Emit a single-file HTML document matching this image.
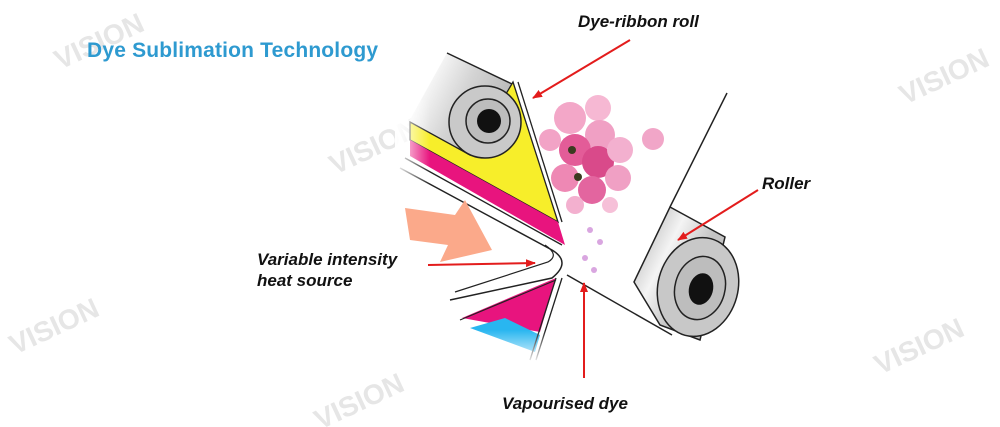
<!DOCTYPE html>
<html><head><meta charset="utf-8"><style>
html,body{margin:0;padding:0;background:#fff;width:1000px;height:427px;overflow:hidden}
</style></head><body>
<svg width="1000" height="427" viewBox="0 0 1000 427" xmlns="http://www.w3.org/2000/svg" font-family="Liberation Sans, sans-serif">
<defs>
<linearGradient id="cyl" gradientUnits="userSpaceOnUse" x1="420" y1="80" x2="500" y2="120">
<stop offset="0" stop-color="#fff"/><stop offset="0.5" stop-color="#d4d4d4"/><stop offset="1" stop-color="#b8b8b8"/></linearGradient>
<linearGradient id="cyl2" gradientUnits="userSpaceOnUse" x1="640" y1="230" x2="700" y2="260">
<stop offset="0" stop-color="#bdbdbd"/><stop offset="0.5" stop-color="#f4f4f4"/><stop offset="1" stop-color="#c4c4c4"/></linearGradient>
<linearGradient id="fadeL" x1="0" y1="0" x2="1" y2="0"><stop offset="0" stop-color="#fff" stop-opacity="1"/><stop offset="1" stop-color="#fff" stop-opacity="0"/></linearGradient>
<linearGradient id="fadeB" x1="0" y1="0" x2="0" y2="1"><stop offset="0" stop-color="#fff" stop-opacity="0"/><stop offset="1" stop-color="#fff" stop-opacity="1"/></linearGradient>
<marker id="ah" markerWidth="10" markerHeight="8" refX="9" refY="4" orient="auto" markerUnits="userSpaceOnUse"><path d="M0,0 L10,4 L0,8 Z" fill="#e31c1c"/></marker>
</defs>
<!-- watermarks -->
<g fill="#e6e6e6" font-weight="bold" font-size="28">
<text transform="translate(60,70) rotate(-25)">VISION</text>
<text transform="translate(335,175) rotate(-25)">VISION</text>
<text transform="translate(905,105) rotate(-25)">VISION</text>
<text transform="translate(15,355) rotate(-25)">VISION</text>
<text transform="translate(880,375) rotate(-25)">VISION</text>
<text transform="translate(320,430) rotate(-25)">VISION</text>
</g>
<text x="87" y="57" font-size="21" font-weight="bold" fill="#2e9ad0" textLength="291">Dye Sublimation Technology</text>

<!-- right paper sheet -->
<line x1="727" y1="93" x2="670" y2="207" stroke="#222" stroke-width="1.5"/>
<line x1="567" y1="275" x2="672" y2="335" stroke="#222" stroke-width="1.5"/>
<!-- right roller -->
<path d="M670,207 L725,237 L700,340 L660,325 L634,282 Z" fill="url(#cyl2)" stroke="#222" stroke-width="1.5"/>
<ellipse cx="698" cy="287" rx="40" ry="50" transform="rotate(15 698 287)" fill="#c8c8c8" stroke="#222" stroke-width="1.5"/>
<ellipse cx="700" cy="288" rx="25" ry="32" transform="rotate(15 700 288)" fill="#bdbdbd" stroke="#222" stroke-width="1.5"/>
<ellipse cx="701" cy="289" rx="12" ry="16" transform="rotate(15 701 289)" fill="#111"/>

<!-- top-left roll body -->
<path d="M447,53 L512,84 L470,155 L407,125 Z" fill="url(#cyl)"/>
<line x1="447" y1="53" x2="512" y2="84" stroke="#222" stroke-width="1.5"/>
<!-- yellow ribbon -->
<path d="M410,122 L470,155 L513,82 L558,222 L410,140 Z" fill="#f7ee2a" stroke="#222" stroke-width="1.3"/>
<line x1="518" y1="82" x2="562" y2="222" stroke="#222" stroke-width="1.3"/>
<!-- magenta band -->
<path d="M410,140 L558,222 L565,245 L410,156 Z" fill="#e8147e"/>
<line x1="405" y1="158" x2="562" y2="245" stroke="#222" stroke-width="1.3"/>
<!-- roll end -->
<circle cx="485" cy="122" r="36" fill="#c9c9c9" stroke="#222" stroke-width="1.5"/>
<circle cx="488" cy="121" r="22" fill="#bdbdbd" stroke="#222" stroke-width="1.5"/>
<circle cx="489" cy="121" r="12" fill="#111"/>

<!-- heat head -->
<path d="M400,168 L552,250 Q572,262 552,278 L450,300" fill="none" stroke="#222" stroke-width="1.5"/>
<path d="M455,292 L548,262 Q560,255 545,245" fill="none" stroke="#222" stroke-width="1.2"/>
<!-- lower ribbon -->
<path d="M462,318 L556,278 L540,332 Z" fill="#e8147e"/>
<path d="M470,328 L505,318 L540,335 L535,352 Z" fill="#29b6f0"/>
<path d="M460,320 L556,280" stroke="#222" stroke-width="1.2"/>
<line x1="556" y1="278" x2="530" y2="360" stroke="#222" stroke-width="1.3"/>
<line x1="562" y1="278" x2="536" y2="360" stroke="#222" stroke-width="1.3"/>
<rect x="395" y="100" width="35" height="260" fill="url(#fadeL)"/>
<rect x="460" y="330" width="100" height="35" fill="url(#fadeB)"/>

<!-- peach arrow -->
<path d="M405,208 L455,215 L465,200 L492,250 L440,262 L448,245 L410,240 Z" fill="#fba98a"/>

<!-- flowers -->
<g>
<circle cx="570" cy="118" r="16" fill="#f3a7c8"/>
<circle cx="598" cy="108" r="13" fill="#f6b8d3"/>
<circle cx="600" cy="135" r="15" fill="#f0a0c4"/>
<circle cx="575" cy="150" r="16" fill="#e35c98"/>
<circle cx="598" cy="162" r="16" fill="#d94a8a"/>
<circle cx="620" cy="150" r="13" fill="#f3b0cf"/>
<circle cx="565" cy="178" r="14" fill="#ee88b4"/>
<circle cx="592" cy="190" r="14" fill="#e3659f"/>
<circle cx="618" cy="178" r="13" fill="#f0a0c4"/>
<circle cx="550" cy="140" r="11" fill="#f2a3c6"/>
<circle cx="575" cy="205" r="9" fill="#f3b0cf"/>
<circle cx="610" cy="205" r="8" fill="#f6c0d8"/>
<circle cx="653" cy="139" r="11" fill="#f1a6c8"/>
<circle cx="572" cy="150" r="4" fill="#3b3b20"/>
<circle cx="578" cy="177" r="4" fill="#3b3b20"/>
<g fill="#d9a6e0"><circle cx="590" cy="230" r="3"/><circle cx="600" cy="242" r="3"/><circle cx="585" cy="258" r="3"/><circle cx="594" cy="270" r="3"/></g>
</g>

<!-- red arrows -->
<g stroke="#e31c1c" stroke-width="2" fill="none" marker-end="url(#ah)">
<line x1="630" y1="40" x2="533" y2="98"/>
<line x1="758" y1="190" x2="678" y2="240"/>
<line x1="428" y1="265" x2="535" y2="263"/>
<line x1="584" y1="378" x2="584" y2="283"/>
</g>

<g font-style="italic" font-weight="bold" font-size="17" fill="#111">
<text x="578" y="27">Dye-ribbon roll</text>
<text x="762" y="189">Roller</text>
<text x="257" y="265">Variable intensity</text>
<text x="257" y="286">heat source</text>
<text x="502" y="409">Vapourised dye</text>
</g>
</svg>
</body></html>
